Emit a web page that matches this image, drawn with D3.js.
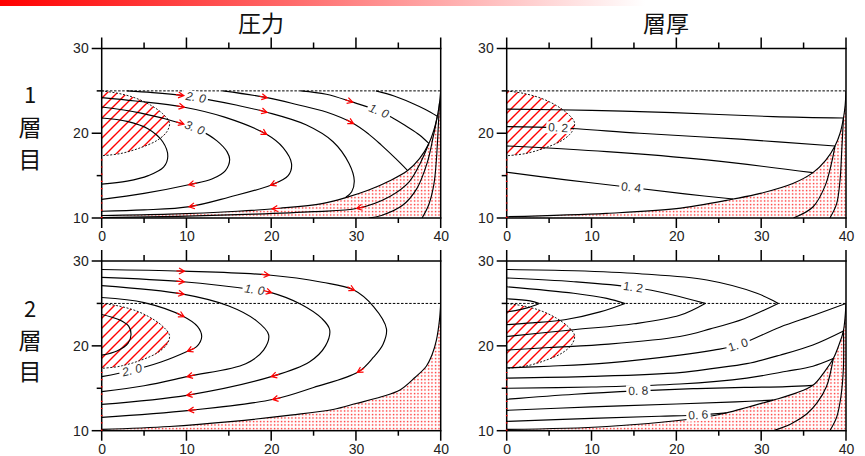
<!DOCTYPE html>
<html><head><meta charset="utf-8">
<script src="https://cdn.jsdelivr.net/npm/d3@7"></script>
<style>body{margin:0;background:#fff;}svg{display:block;}</style>
</head><body>
<svg id="c" width="865" height="456"></svg>
<script>
// ================= DATA =================
const xTicks = [0, 10, 20, 30, 40];
const xMinor = [5, 15, 25, 35];
const yTicks = [10, 20, 30];
const yMinor = [15, 25];
const colTitles = ["圧力", "層厚"];
const rowLabels = [["1", "層", "目"], ["2", "層", "目"]];
const outcropLat = 25;
const poolBoundary = [[0,25],[2,24.7],[4,24.15],[5.8,23.3],[7.2,22.3],[8,21.25],[7.7,20.2],[6.6,19.2],[4.6,18.3],[2.2,17.6],[0,17.35]];
const westDotsTop = 17.3;

// ---- panel 1: layer 1 pressure ----
const p1A = [[3,25],[6,24.8],[9.6,24.45],[12.4,24.0],[16,23.3],[19.4,22.5],[24.1,21.0],[27.3,19.0],[29.2,16.4],[29.8,14.4],[29.5,13.1],[28.8,12.45]];
const p1B = [[0,24.2],[4,23.8],[9.6,23.1],[14.5,21.9],[19.4,19.9],[21.4,18.3],[22.4,16.4],[22.0,15.0],[20.0,13.9],[15,12.45],[10.4,11.35],[5,10.95],[0,10.8]];
const p1C = [[0,23.1],[4.5,22.4],[9.6,21.1],[11.5,20.4],[13.6,19.1],[14.8,17.8],[15.1,16.9],[14.6,15.6],[13,14.6],[10.4,13.95],[5,12.9],[0,12.2]];
const p1D = [[0,21.8],[3,21.4],[5.5,20.5],[7.2,19.0],[7.8,17.3],[7.3,16.0],[5.5,15.0],[3,14.35],[0,14.0]];
const p1E = [[14.3,25],[19.5,24.2],[23,23.4],[26.5,22.5],[29.6,21.2],[31.5,19.9],[33,18.6],[34.7,17.0],[36.1,15.6]];
const p1F = [[23.5,25],[26.5,24.6],[29.5,23.7],[32.5,22.7],[34.2,21.9],[36,20.8],[37.5,19.8],[38.6,18.8]];
const p1G = [[32.35,25],[34.5,24.4],[36.5,23.6],[38.2,22.8],[39.6,22.0]];
const p1S = [[40,25],[39.85,23.5],[39.6,22.0],[39.2,20.4],[38.6,18.8],[37.5,17.0],[36.1,15.6],[34,14.4],[31.5,13.3],[28.8,12.4],[26,11.7],[21,11.15],[16,10.8],[8,10.45],[0,10.3]];
const p1SA = [[38.6,18.8],[37.6,16.5],[36.3,14.3],[34,12.55],[30.2,11.15],[25,10.75],[18,10.45],[9,10.2],[0,10.05]];
const p1SB = [[39.6,22.0],[39.1,19.5],[38.4,16.5],[37.2,13.5],[35.5,11.5],[33,10.3],[31.5,10.0]];
const p1SC = [[39.85,23.5],[39.7,20.5],[39.5,17],[39.2,14],[38.6,11.6],[37.8,10.0]];
const p1Arrows = [["a",9.6,24.45],["a",19.4,22.5],["b",9.6,23.1],["b",19.4,19.9],["b",20.0,13.9],["b",10.4,11.35],
  ["c",9.6,21.1],["c",10.4,13.95],["e",19.4,24.25],["e",29.6,21.2],["f",29.5,23.7],["s",20.2,11.05],["sa",30.2,11.15]];
const p1Labels = [["a","2. 0",11.1,24.1],["c","3. 0",11.0,20.7],["f","1. 0",32.7,22.6]];

// ---- panel 2: layer 1 thickness ----
const p2T1 = [[0,22.85],[10,22.7],[19.6,22.43],[31.4,21.96],[39.7,21.8]];
const p2T2 = [[0,20.78],[6,20.65],[15.7,20.0],[27.5,19.3],[38.7,18.5]];
const p2T3 = [[0,18.5],[11.8,17.83],[23.6,16.85],[36.1,15.35]];
const p2T4 = [[0,15.4],[7,14.5],[14.7,13.6],[21,12.85],[26.7,12.24]];
const p2S = [[40,25],[39.9,23.3],[39.7,21.8],[39.3,20],[38.7,18.5],[37.6,16.8],[36.1,15.35],[33.8,14.1],[29.9,12.9],[26.7,12.24],[20,11.1],[11.8,10.55],[0,10.15]];
const p2SA = [[38.7,18.5],[38.3,16.5],[37.5,13.7],[36.1,11.3],[33.8,10.0]];
const p2SB = [[39.7,21.8],[39.5,18],[39.3,14.5],[38.9,11.7],[38.1,10.0]];
const p2Labels = [["t2","0. 2",6.1,20.62],["t4","0. 4",14.7,13.6]];

// ---- panel 3: layer 2 pressure ----
const p3U1 = [[0,29.0],[9.6,28.8],[19.7,28.35],[26,27.5],[29.7,26.6],[32.1,24.6],[33.6,22.0],[33.2,20.2],[32.1,18.7],[30.3,16.95],[25,15.1],[20.3,13.7],[10.4,12.4],[0,11.57]];
const p3U2 = [[0,28.07],[9.6,27.56],[18.1,26.6],[19.9,26.3],[23.5,24.9],[26,23.2],[26.9,21.9],[26.4,20.0],[24.5,18.1],[20.1,16.4],[10.2,14.2],[0,13.1]];
const p3U3 = [[0,27.1],[9.6,26.1],[15,24.7],[18.2,23.0],[19.7,21.3],[19.1,19.5],[17.0,17.9],[10.2,16.4],[5,15.3],[0,14.6]];
const p3U4 = [[0,25.7],[5,25.1],[9.6,23.5],[11.3,22.3],[11.8,21.1],[11.2,19.9],[10.2,19.4],[7,18.1],[3.5,17.1],[0,16.37]];
const p3U5 = [[0,23.7],[2,23.1],[3.2,22.3],[3.46,21.35],[3.1,20.3],[1.8,19.4],[0,18.9]];
const p3S = [[40,25],[39.85,23],[39.5,20.7],[39.0,19.0],[38.3,17.6],[37,16.3],[35.2,14.8],[33,14.0],[30,13.2],[27.3,12.5],[22,11.8],[15.5,11.1],[8,10.5],[0,10.16]];
const p3Arrows = [["u1",9.6,28.8],["u1",19.7,28.35],["u1",29.7,26.6],["u1",30.3,16.95],["u1",20.3,13.7],["u1",10.4,12.4],
  ["u2",9.6,27.56],["u2",19.9,26.3],["u2",20.1,16.4],["u2",10.2,14.2],["u3",9.6,26.1],["u3",10.2,16.4],["u4",9.6,23.5],["u4",10.2,19.4]];
const p3Labels = [["u2","1. 0",18.0,26.62],["u4","2. 0",3.6,17.1]];

// ---- panel 4: layer 2 thickness ----
const p4V1t = [[0,29.0],[8,28.85],[15.7,28.5],[23.6,27.76],[29.5,26.2],[32,25]];
const p4V2t = [[0,28.0],[7.9,27.56],[14.9,26.9],[19.6,26.0],[23.4,25]];
const p4V3t = [[0,26.97],[7.9,26.2],[11.8,25.6],[13.95,25]];
const p4V4t = [[0,25.55],[2.75,25.3],[3.85,25]];
const p4V1b = [[32,25],[28,23.2],[24,22.0],[20.4,21.1],[12,20.2],[5,19.8],[0,19.5]];
const p4V2b = [[23.4,25],[20.4,23.6],[15,22.6],[7.9,21.9],[0,21.1]];
const p4V3b = [[13.95,25],[11,24.0],[7,23.1],[3,22.7],[0,22.5]];
const p4V4b = [[3.85,25],[2.5,24.5],[1,24.15],[0,24.0]];
const p4F1 = [[40,25],[36.2,23.6],[32.2,22.2],[27.3,20.1],[24.4,19.5],[20.4,18.9],[12,18.0],[5,17.6],[0,17.4]];
const p4F2 = [[0,16.2],[10,16.4],[20.4,16.85],[24.4,17.35],[28.3,17.9],[32.2,18.9],[36.1,20.1],[39.7,21.75]];
const p4F3 = [[0,15.0],[10,15.15],[20.4,15.5],[28.3,16.2],[33,17.0],[36.1,17.6],[38.5,18.5]];
const p4F4 = [[0,13.7],[8,14.3],[15.5,14.7],[22,14.95],[28,15.1],[33,15.2],[36.1,15.35]];
const p4F5 = [[0,12.4],[10,12.8],[20,13.15],[27,13.4],[31.4,13.6]];
const p4F6 = [[0,11.1],[10,11.45],[18,11.7],[22.6,11.85],[25.9,12.1]];
const p4S = [[40,25],[39.7,21.8],[39.2,20.2],[38.5,18.5],[37.5,17.0],[36.1,15.35],[34,14.4],[31.4,13.6],[28.5,12.8],[25.9,12.1],[23.6,11.65],[11.8,10.5],[0,10.16]];
const p4SA = [[38.5,18.5],[37.7,15.2],[36.6,13.3],[35.4,12.0],[33.5,10.8],[31.4,10.0]];
const p4SB = [[39.7,21.8],[39.7,17.5],[39.4,14.0],[38.9,11.6],[38.1,10.0]];
const p4Labels = [["v2t","1. 2",14.9,26.9],["f1","1. 0",27.3,20.1],["f4","0. 8",15.5,14.7],["f6","0. 6",22.6,11.85]];

// ================= LAYOUT =================
const colX = [[101.7, 440.7], [506.7, 846]];
const rowY = [[218, 48.5], [430.7, 261]];
const rowLabelY = [[92.5, 126, 157.5], [306.5, 339, 370]];
const titleX = [261, 666];

const panels = [
  {r:0, c:0, italic:true, shadow:p1S,
   curves:{a:p1A,b:p1B,c:p1C,d:p1D,e:p1E,f:p1F,g:p1G,s:p1S,sa:p1SA,sb:p1SB,sc:p1SC},
   arrows:p1Arrows, labels:p1Labels},
  {r:0, c:1, italic:false, shadow:p2S,
   curves:{t1:p2T1,t2:p2T2,t3:p2T3,t4:p2T4,s:p2S,sa:p2SA,sb:p2SB},
   arrows:[], labels:p2Labels},
  {r:1, c:0, italic:true, shadow:p3S,
   curves:{u1:p3U1,u2:p3U2,u3:p3U3,u4:p3U4,u5:p3U5,s:p3S},
   arrows:p3Arrows, labels:p3Labels},
  {r:1, c:1, italic:false, shadow:p4S,
   curves:{v1t:p4V1t,v2t:p4V2t,v3t:p4V3t,v4t:p4V4t,v1b:p4V1b,v2b:p4V2b,v3b:p4V3b,v4b:p4V4b,
           f1:p4F1,f2:p4F2,f3:p4F3,f4:p4F4,f5:p4F5,f6:p4F6,s:p4S,sa:p4SA,sb:p4SB},
   arrows:[], labels:p4Labels}
];

const svg = d3.select("#c");
const defs = svg.append("defs");
const grad = defs.append("linearGradient").attr("id","topbar");
grad.append("stop").attr("offset","0%").attr("stop-color","#ff0000");
grad.append("stop").attr("offset","45%").attr("stop-color","#ff6a6a");
grad.append("stop").attr("offset","100%").attr("stop-color","#ffffff");
svg.append("rect").attr("x",0).attr("y",0).attr("width",645).attr("height",6).attr("fill","url(#topbar)");

const hatch = defs.append("pattern").attr("id","hatch").attr("patternUnits","userSpaceOnUse")
  .attr("width",10).attr("height",10);
hatch.append("path").attr("d","M-1,1 L1,-1 M0,10 L10,0 M9,11 L11,9")
  .attr("stroke","#ff0000").attr("stroke-width",1.4).attr("fill","none");
const dots = defs.append("pattern").attr("id","dots").attr("patternUnits","userSpaceOnUse")
  .attr("width",3.5).attr("height",3.5);
dots.append("rect").attr("x",0.8).attr("y",0.8).attr("width",1.4).attr("height",1.4).attr("fill","#ff2020");

colTitles.forEach((t,i)=>{
  svg.append("text").attr("x",titleX[i]).attr("y",22).attr("text-anchor","middle")
    .attr("dominant-baseline","central")
    .style("font-family","'Noto Sans CJK JP','Noto Sans CJK SC',sans-serif").style("font-size","23px")
    .attr("fill","#111").text(t);
});
rowLabels.forEach((arr,r)=>{
  arr.forEach((t,k)=>{
    svg.append("text").attr("x",30).attr("y",rowLabelY[r][k]).attr("text-anchor","middle")
      .attr("dominant-baseline","central")
      .style("font-family","'Noto Sans CJK JP','Noto Sans CJK SC',sans-serif")
      .style("font-size", k===0 ? "22px" : "23px").attr("fill","#111").text(t);
  });
});

panels.forEach((p,pi)=>{
  const xs = d3.scaleLinear().domain([0,40]).range(colX[p.c]);
  const ys = d3.scaleLinear().domain([10,30]).range(rowY[p.r]);
  const line = d3.line().x(d=>xs(d[0])).y(d=>ys(d[1])).curve(d3.curveCatmullRom.alpha(0.5));
  const g = svg.append("g");
  const cid = "clip"+pi;
  defs.append("clipPath").attr("id",cid).append("rect")
    .attr("x",xs(0)).attr("y",ys(30)).attr("width",xs(40)-xs(0)).attr("height",ys(10)-ys(30));
  const inner = g.append("g").attr("clip-path",`url(#${cid})`);

  inner.append("path")
    .attr("d", line(p.shadow) + `L${xs(0)},${ys(10)}L${xs(40)},${ys(10)}Z`)
    .attr("fill","url(#dots)").attr("stroke","none");
  inner.append("path").attr("d", line(poolBoundary)+"Z").attr("fill","url(#hatch)").attr("stroke","none");

  const nodes = {};
  Object.entries(p.curves).forEach(([k,pts])=>{
    nodes[k] = inner.append("path").attr("d", line(pts)).attr("fill","none")
      .attr("stroke","#000").attr("stroke-width",1.15).node();
  });
  inner.append("path").attr("d", line(poolBoundary)).attr("fill","none")
    .attr("stroke","#000").attr("stroke-width",0.9).attr("stroke-dasharray","2,1.6");
  g.append("line").attr("x1",xs(0)).attr("x2",xs(40)).attr("y1",ys(outcropLat)).attr("y2",ys(outcropLat))
    .attr("stroke","#000").attr("stroke-width",1).attr("stroke-dasharray","2.5,1.6");

  function nearest(node, tx, ty){
    const L = node.getTotalLength();
    let best = 0, bd = Infinity;
    const N = 600;
    for(let i=0;i<=N;i++){
      const l = L*i/N; const q = node.getPointAtLength(l);
      const d = (q.x-tx)**2+(q.y-ty)**2;
      if(d<bd){bd=d;best=l;}
    }
    const q = node.getPointAtLength(best);
    const a = node.getPointAtLength(Math.max(0,best-2));
    const b = node.getPointAtLength(Math.min(L,best+2));
    return {x:q.x, y:q.y, ang: Math.atan2(b.y-a.y, b.x-a.x)*180/Math.PI};
  }

  p.labels.forEach(([k,txt,lx,ly])=>{
    const q = nearest(nodes[k], xs(lx), ys(ly));
    let ang = q.ang; if(ang>90) ang-=180; if(ang<-90) ang+=180;
    const lg = g.append("g").attr("transform",`translate(${q.x},${q.y}) rotate(${ang})`);
    const t = lg.append("text").attr("text-anchor","middle").attr("dominant-baseline","central")
      .style("font-family","'Liberation Sans',Arial,sans-serif").style("font-size","12px")
      .style("font-style", p.italic ? "italic" : "normal")
      .attr("fill","#333").text(txt);
    const bb = t.node().getBBox();
    lg.insert("rect","text").attr("x",bb.x-2).attr("y",bb.y+1).attr("width",bb.width+4).attr("height",bb.height-2)
      .attr("fill","#fff");
  });

  p.arrows.forEach(([k,ax,ay])=>{
    const q = nearest(nodes[k], xs(ax), ys(ay));
    g.append("path").attr("transform",`translate(${q.x},${q.y}) rotate(${q.ang})`)
      .attr("d","M-7,0 L1,0 M-4.5,-3 L1,0 L-4.5,3").attr("fill","none")
      .attr("stroke","#ff0000").attr("stroke-width",1.2);
  });

  const ax = g.append("g").style("font-family","'Liberation Sans',Arial,sans-serif");
  ax.append("g").attr("transform",`translate(0,${ys(10)})`)
    .call(d3.axisBottom(xs).tickValues(xTicks).tickSize(0).tickPadding(13).tickSizeOuter(0).tickFormat(d3.format("d")));
  ax.append("g").attr("transform",`translate(${xs(0)},0)`)
    .call(d3.axisLeft(ys).tickValues(yTicks).tickSize(0).tickPadding(13).tickSizeOuter(0).tickFormat(d3.format("d")));
  ax.selectAll(".tick line").remove();
  ax.selectAll("path.domain").remove();
  ax.selectAll(".tick text").style("font-size","14px").attr("fill","#222");

  // frame and tick marks as filled rectangles
  const tk = g.append("g").attr("fill","#000");
  const vbar = (x,y1,y2)=>tk.append("rect").attr("x",x-0.75).attr("y",Math.min(y1,y2)).attr("width",1.5).attr("height",Math.abs(y2-y1));
  const hbar = (y,x1,x2)=>tk.append("rect").attr("y",y-0.75).attr("x",Math.min(x1,x2)).attr("height",1.5).attr("width",Math.abs(x2-x1));
  hbar(ys(30), xs(0)-0.75, xs(40)+0.75);
  hbar(ys(10), xs(0)-0.75, xs(40)+0.75);
  vbar(xs(0), ys(30), ys(10));
  vbar(xs(40), ys(30), ys(10));
  xTicks.forEach(v=>{ vbar(xs(v), ys(30)-11, ys(30)); vbar(xs(v), ys(10), ys(10)+10); });
  xMinor.forEach(v=>{ vbar(xs(v), ys(30)-6, ys(30)); vbar(xs(v), ys(10), ys(10)+5); });
  yTicks.forEach(v=>hbar(ys(v), xs(0)-10, xs(0)));
  yMinor.forEach(v=>hbar(ys(v), xs(0)-5, xs(0)));

  g.append("line").attr("x1",xs(0)).attr("x2",xs(0)).attr("y1",ys(10)).attr("y2",ys(westDotsTop))
    .attr("stroke","#ff0000").attr("stroke-width",1.6).attr("stroke-dasharray","1.2,6");
});
</script>
</body></html>
